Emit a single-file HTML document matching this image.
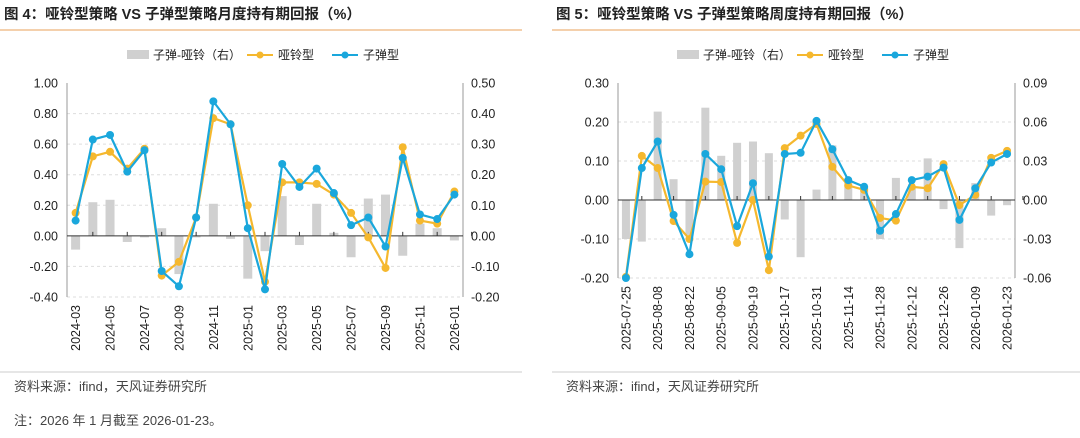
<!DOCTYPE html>
<html><head><meta charset="utf-8"><style>
body{margin:0;background:#fff;width:1080px;height:433px;overflow:hidden}
svg{font-family:"Liberation Sans","Noto Sans CJK SC",sans-serif}
</style></head><body>
<svg id="s" width="1080" height="433">
<text x="4" y="19" font-size="14.5" font-weight="bold" fill="#222">图 4：哑铃型策略  VS  子弹型策略月度持有期回报（%）</text>
<text x="556" y="19" font-size="14.5" font-weight="bold" fill="#222">图 5：哑铃型策略  VS  子弹型策略周度持有期回报（%）</text>
<line x1="0" y1="30" x2="522" y2="30" stroke="#E8A05A" stroke-width="1"/>
<line x1="552" y1="30" x2="1080" y2="30" stroke="#E8A05A" stroke-width="1"/>
<line x1="0" y1="372" x2="522" y2="372" stroke="#bbb" stroke-width="0.8"/>
<line x1="552" y1="372" x2="1080" y2="372" stroke="#bbb" stroke-width="0.8"/>
<text x="14" y="391" font-size="13" fill="#444">资料来源：ifind，天风证券研究所</text>
<text x="566" y="391" font-size="13" fill="#444">资料来源：ifind，天风证券研究所</text>
<text x="14" y="425" font-size="13" fill="#444">注：2026 年 1 月截至 2026-01-23。</text>
</svg>
<script>
// Chart 1 data (monthly)
const cats1=["2024-03","2024-04","2024-05","2024-06","2024-07","2024-08","2024-09","2024-10","2024-11","2024-12","2025-01","2025-02","2025-03","2025-04","2025-05","2025-06","2025-07","2025-08","2025-09","2025-10","2025-11","2025-12","2026-01"];
const dumbbell1=[0.15,0.52,0.55,0.44,0.57,-0.26,-0.17,0.12,0.77,0.73,0.20,-0.30,0.35,0.35,0.34,0.27,0.15,-0.01,-0.21,0.58,0.10,0.08,0.29];
const bullet1=[0.10,0.63,0.66,0.42,0.56,-0.23,-0.33,0.12,0.88,0.73,0.05,-0.35,0.47,0.32,0.44,0.28,0.07,0.12,-0.07,0.51,0.14,0.11,0.27];
const diff1=[-0.045,0.11,0.118,-0.02,-0.005,0.025,-0.125,-0.005,0.105,-0.01,-0.14,-0.05,0.13,-0.03,0.105,0.01,-0.07,0.122,0.135,-0.065,0.04,0.025,-0.015];
const leftTicks1=["1.00","0.80","0.60","0.40","0.20","0.00","-0.20","-0.40"];
const rightTicks1=["0.50","0.40","0.30","0.20","0.10","0.00","-0.10","-0.20"];
// Chart 2 data (weekly)
const cats2=["2025-07-25","2025-08-01","2025-08-08","2025-08-15","2025-08-22","2025-08-29","2025-09-05","2025-09-12","2025-09-19","2025-09-26","2025-10-17","2025-10-24","2025-10-31","2025-11-07","2025-11-14","2025-11-21","2025-11-28","2025-12-05","2025-12-12","2025-12-19","2025-12-26","2026-01-02","2026-01-09","2026-01-16","2026-01-23"];
const dumbbell2=[-0.197,0.113,0.082,-0.054,-0.10,0.047,0.046,-0.11,0.0,-0.18,0.133,0.165,0.195,0.085,0.037,0.026,-0.046,-0.053,0.034,0.03,0.092,-0.013,0.013,0.108,0.126];
const bullet2=[-0.20,0.082,0.15,-0.038,-0.139,0.118,0.079,-0.067,0.043,-0.145,0.118,0.121,0.203,0.13,0.051,0.034,-0.079,-0.036,0.051,0.06,0.083,-0.051,0.03,0.096,0.118];
const diff2=[-0.03,-0.032,0.068,0.016,-0.027,0.071,0.034,0.044,0.045,0.036,-0.015,-0.044,0.008,0.042,0.015,0.01,-0.03,0.017,0.01,0.032,-0.007,-0.037,0.013,-0.012,-0.004];
const leftTicks2=["0.30","0.20","0.10","0.00","-0.10","-0.20"];
const rightTicks2=["0.09","0.06","0.03","0.00","-0.03","-0.06"];

const NS="http://www.w3.org/2000/svg";
const svg=document.getElementById('s');
function mk(tag,attrs,parent){const e=document.createElementNS(NS,tag);for(const k in attrs)e.setAttribute(k,attrs[k]);(parent||svg).appendChild(e);return e;}

function chart(o){
  const g=mk('g',{});
  
  
  const lmin=parseFloat(o.lt[o.lt.length-1]),lmax=parseFloat(o.lt[0]);
  const rmin=parseFloat(o.rt[o.rt.length-1]),rmax=parseFloat(o.rt[0]);
  const yL=v=>o.y1+(lmax-v)/(lmax-lmin)*(o.y2-o.y1);
  const yR=v=>o.y1+(rmax-v)/(rmax-rmin)*(o.y2-o.y1);
  const n=o.cats.length,step=(o.x2-o.x1)/n;
  const xS=i=>o.x1+step*(i+0.5);
  o.lt.forEach((t,i)=>{const v=parseFloat(t),y=yL(v);
    if(v!==0&&i>0){const gl=mk('line',{x1:o.x1,x2:o.x2,y1:y,y2:y,stroke:'#ddd','stroke-dasharray':'3,3'},g);}
    const tx=mk('text',{x:o.x1-9,y:y+4.5,'font-size':12.5,'text-anchor':'end',fill:'#222'},g);tx.textContent=t;
    
  });
  o.rt.forEach(t=>{const y=yR(parseFloat(t));
    const tx=mk('text',{x:o.x2+8,y:y+4.5,'font-size':12.5,fill:'#222'},g);tx.textContent=t;
    
  });
  const al=mk('line',{x1:o.x1,x2:o.x1,y1:o.y1,y2:o.y2,stroke:'#999'},g);
  const ar=mk('line',{x1:o.x2,x2:o.x2,y1:o.y1,y2:o.y2,stroke:'#999'},g);
  o.diff.forEach((v,i)=>{const y0=yR(0),y=yR(v);
    const b=mk('rect',{x:xS(i)-o.bw/2,y:Math.min(y0,y),width:o.bw,height:Math.abs(y-y0),fill:'#D0D0D0'},g);
    });
  const z=mk('line',{x1:o.x1,x2:o.x2,y1:yL(0),y2:yL(0),stroke:'#333'},g);
  o.cats.forEach((c,i)=>{ if(i%2) return; const x=xS(i);
    const tk=mk('line',{x1:x+step,x2:x+step,y1:yL(0)-4,y2:yL(0),stroke:'#333'},g);
    const tx=mk('text',{transform:`translate(${x+4.5},${o.y2+8}) rotate(-90)`,'font-size':12.5,'text-anchor':'end',fill:'#222'},g);tx.textContent=c;
    });
  [[o.dumb,'#F5B82E','dumbbell'],[o.bull,'#1AA7DC','bullet']].forEach(([d,col,nm])=>{
    const p=mk('polyline',{points:d.map((v,i)=>xS(i)+','+yL(v)).join(' '),fill:'none',stroke:col,'stroke-width':2.2},g);
    
    d.forEach((v,i)=>{const c=mk('circle',{cx:xS(i),cy:yL(v),r:4,fill:col},g);});
  });
  // legend
  const lx=o.legX,ly=55;
  const lg=mk('g',{},g);
  mk('rect',{x:lx,y:ly-5,width:22,height:9,fill:'#D0D0D0'},lg);
  let t=mk('text',{x:lx+26,y:ly+4,'font-size':12,fill:'#222'},lg);t.textContent='子弹-哑铃（右）';
  mk('line',{x1:lx+120,x2:lx+146,y1:ly,y2:ly,stroke:'#F5B82E','stroke-width':2},lg);mk('circle',{cx:lx+133,cy:ly,r:3.5,fill:'#F5B82E'},lg);
  t=mk('text',{x:lx+151,y:ly+4,'font-size':12,fill:'#222'},lg);t.textContent='哑铃型';
  mk('line',{x1:lx+205,x2:lx+231,y1:ly,y2:ly,stroke:'#1AA7DC','stroke-width':2},lg);mk('circle',{cx:lx+218,cy:ly,r:3.5,fill:'#1AA7DC'},lg);
  t=mk('text',{x:lx+236,y:ly+4,'font-size':12,fill:'#222'},lg);t.textContent='子弹型';
}
chart({name:'chart-monthly',cats:cats1,dumb:dumbbell1,bull:bullet1,diff:diff1,lt:leftTicks1,rt:rightTicks1,x1:67,x2:463,y1:83,y2:297,bw:9,legX:127});
chart({name:'chart-weekly',cats:cats2,dumb:dumbbell2,bull:bullet2,diff:diff2,lt:leftTicks2,rt:rightTicks2,x1:618,x2:1015,y1:83,y2:278,bw:8,legX:677});
</script>
</body></html>
